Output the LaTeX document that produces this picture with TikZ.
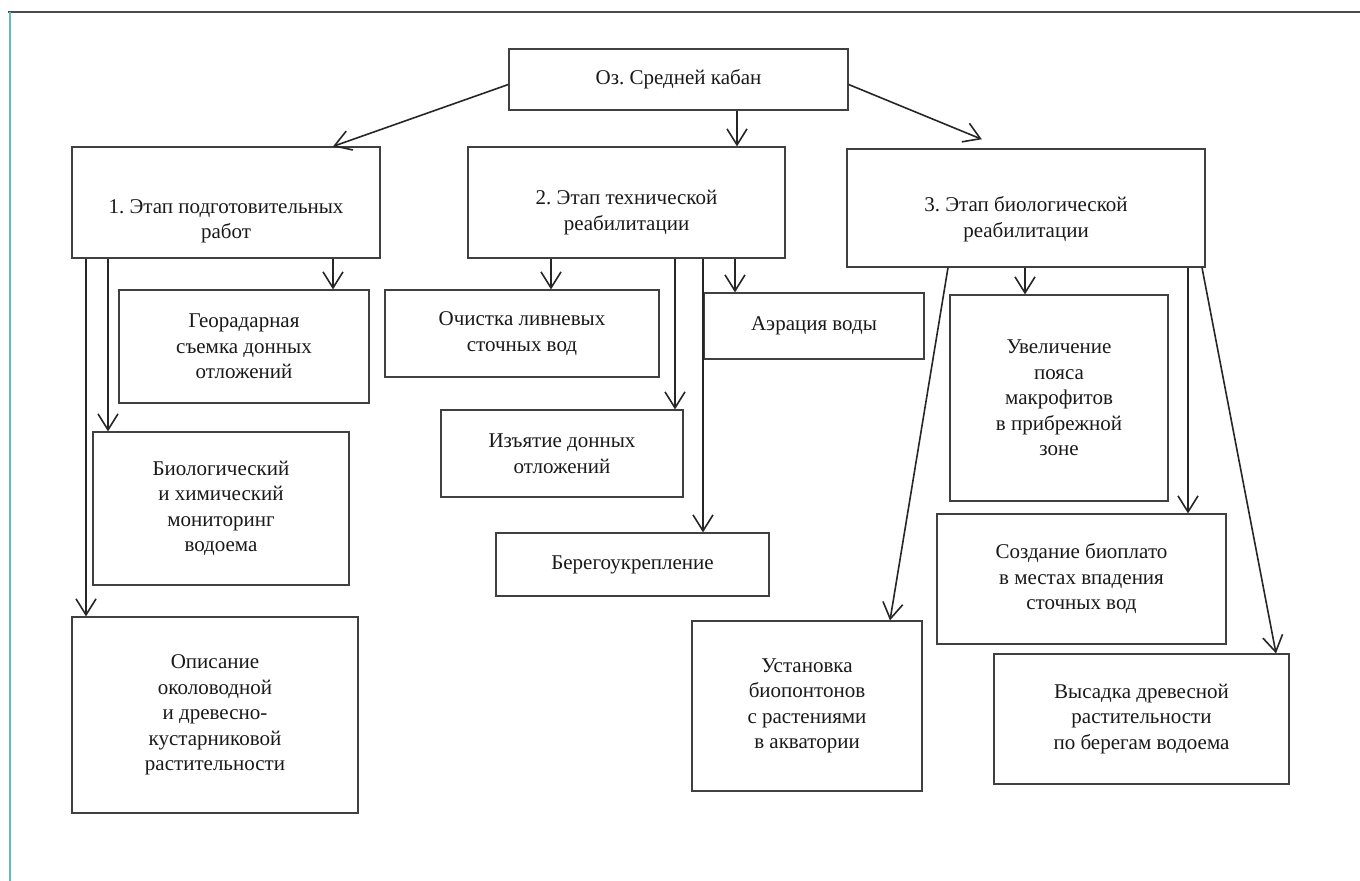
\documentclass[tikz,border=0pt]{standalone}
\usepackage{fontspec}
\setmainfont{Liberation Serif}
\frenchspacing
\usetikzlibrary{arrows.meta}
\definecolor{frameteal}{RGB}{95,190,180}
\tikzset{
  task/.style={rectangle, draw=black!75, line width=0.6pt, align=center, inner sep=2pt, text=black!90, font=\fontsize{10.5}{12.75}\selectfont},
  stagetext/.style={align=center, text=black!90, font=\fontsize{10.5}{12.75}\selectfont},
  arrow/.style={draw=black!85, line width=0.8pt, -{Straight Barb[length=8pt,width=10pt]}}
}

\begin{document}
\begin{tikzpicture}[x=0.5pt, y=-0.5pt]
  \useasboundingbox (0,0) rectangle (1360,881);

  % page frame
  \draw[black!70, line width=1.2pt] (8,12) -- (1360,12);
  \draw[frameteal, line width=1pt] (10,12) -- (10,881);

  % lake and stages
  \node (root) [task, minimum width=169.5pt, minimum height=30.5pt] at (678.5,79.5) {Оз. Средней кабан};
  \node (s1) [task, minimum width=154pt, minimum height=55.5pt, label={[stagetext, yshift=-9.5pt]center:1. Этап подготовительных\\работ}] at (226,202.5) {};
  \node (s2) [task, minimum width=158.5pt, minimum height=55.5pt, label={[stagetext, yshift=-5pt]center:2. Этап технической\\реабилитации}] at (626.5,202.5) {};
  \node (s3) [task, minimum width=179pt, minimum height=59pt, label={[stagetext, yshift=-5.5pt]center:3. Этап биологической\\реабилитации}] at (1026,208) {};

  % stage 1
  \node (geo) [task, minimum width=125pt, minimum height=56.5pt] at (244,346.5) {Георадарная\\съемка донных\\отложений};
  \node (bio) [task, minimum width=128pt, minimum height=76.5pt] at (221,508.5) {Биологический\\и химический\\мониторинг\\водоема};
  \node (desc) [task, minimum width=143pt, minimum height=98pt] at (215,715) {Описание\\околоводной\\и древесно-\\кустарниковой\\растительности};

  % stage 2
  \node (clean) [task, minimum width=137pt, minimum height=43.5pt] at (522,333.5) {Очистка ливневых\\сточных вод};
  \node (dredge) [task, minimum width=121pt, minimum height=43.5pt] at (562,453.5) {Изъятие донных\\отложений};
  \node (bank) [task, minimum width=136.5pt, minimum height=31.5pt] at (632.5,564.5) {Берегоукрепление};
  \node (aer) [task, minimum width=110pt, minimum height=33pt] at (814,326) {Аэрация воды};

  % stage 3
  \node (macro) [task, minimum width=109pt, minimum height=103pt] at (1059,398) {Увеличение\\пояса\\макрофитов\\в прибрежной\\зоне};
  \node (pont) [task, minimum width=115pt, minimum height=85pt] at (807,706) {Установка\\биопонтонов\\с растениями\\в акватории};
  \node (plato) [task, minimum width=144.5pt, minimum height=65pt] at (1081.5,579) {Создание биоплато\\в местах впадения\\сточных вод};
  \node (trees) [task, minimum width=147.5pt, minimum height=65pt] at (1141.5,719) {Высадка древесной\\растительности\\по берегам водоема};

  % connectors
  \draw [arrow] ([yshift=-2.5pt]root.west) -- (s1.north -| 333,0);
  \draw [arrow, shorten >=12pt] ([yshift=-2.5pt]root.east) -- (s3.north -| 1004,0);
  \foreach \src/\dst/\x in {s1/desc/86, s1/bio/108, s1/geo/333, root/s2/737,
      s2/clean/551, s2/dredge/675, s2/bank/703, s2/aer/735, s3/macro/1025, s3/plato/1188}
    \draw [arrow] (\src.south -| \x,0) -- (\dst.north -| \x,0);
  \draw [arrow] (s3.south -| 948,0) -- (pont.north -| 890,0);
  \draw [arrow] (s3.south -| 1202,0) -- (trees.north -| 1276,0);

\end{tikzpicture}
\end{document}
